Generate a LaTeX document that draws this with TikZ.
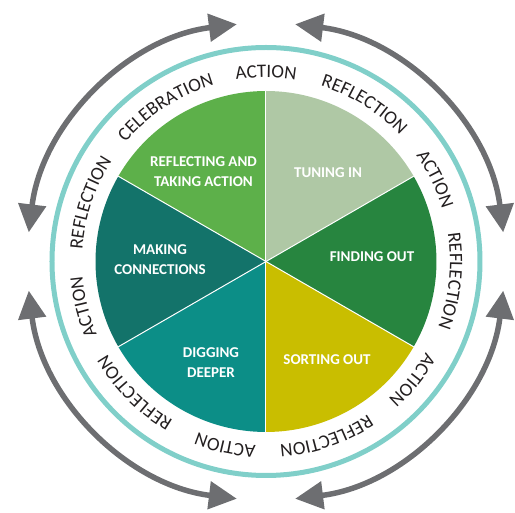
\documentclass[tikz,border=0pt]{standalone}
\usepackage{fontspec}
\setmainfont{Carlito}
\usetikzlibrary{arrows.meta,decorations.text}
\definecolor{cRTA}{HTML}{5DB04A}
\definecolor{cTI}{HTML}{AFC8A5}
\definecolor{cFO}{HTML}{27853F}
\definecolor{cSO}{HTML}{C9BE00}
\definecolor{cDD}{HTML}{0C8E87}
\definecolor{cMC}{HTML}{13736A}
\definecolor{cRing}{HTML}{80CFC9}
\definecolor{cArrow}{HTML}{6D6E71}
\definecolor{cText}{HTML}{231F20}
\newcommand\ringword[2]{\path[decorate,decoration={text along path,text align=center,text color=cText,text={|\fontsize{19}{19}\selectfont|#2}}] ({#1+30}:184) arc[start angle={#1+30},end angle={#1-30},radius=184];}
\tikzset{
  sectorlabel/.style={text=white,font=\bfseries\fontsize{15}{20}\selectfont,align=center,inner sep=0pt},
  cyclearrow/.style={draw=cArrow,line width=5.5pt,{Triangle[length=28pt,width=27pt]}-{Triangle[length=28pt,width=27pt]}},
  divider/.style={draw=white,line width=1pt}
}
\begin{document}
\begin{tikzpicture}[x=1pt,y=1pt]
\useasboundingbox (-266,-251.5) rectangle (249,261.5);
\coordinate (O) at (0,0);
\def\R{170.5}
% sectors
\fill[cTI]  (O) -- (90:\R)  arc[start angle=90, end angle=30, radius=\R] -- cycle;
\fill[cFO]  (O) -- (30:\R)  arc[start angle=30, end angle=-30, radius=\R] -- cycle;
\fill[cSO]  (O) -- (-30:\R) arc[start angle=-30, end angle=-90, radius=\R] -- cycle;
\fill[cDD]  (O) -- (-90:\R) arc[start angle=-90, end angle=-150, radius=\R] -- cycle;
\fill[cMC]  (O) -- (210:\R) arc[start angle=210, end angle=150, radius=\R] -- cycle;
\fill[cRTA] (O) -- (150:\R) arc[start angle=150, end angle=90, radius=\R] -- cycle;
\foreach \a in {30,90,150,210,270,330} \draw[divider] (O) -- (\a:\R);
% labels
\node[sectorlabel] (rta) at (-62.5,89.5) {REFLECTING AND\\TAKING ACTION};
\node[sectorlabel] (ti) at (62,88.5) {TUNING IN};
\node[sectorlabel] (mc) at (-106,1.5) {MAKING\\CONNECTIONS};
\node[sectorlabel] (fo) at (106,4.5) {FINDING OUT};
\node[sectorlabel] (dd) at (-55,-101) {DIGGING\\DEEPER};
\node[sectorlabel] (so) at (61,-98.5) {SORTING OUT};
% ring
\draw[cRing,line width=5pt] (O) circle[radius=214];
% ring words
\ringword{90}{ACTION}
\ringword{58}{REFLECTION}
\ringword{26}{ACTION}
\ringword{-6}{REFLECTION}
\ringword{-39}{ACTION}
\ringword{-71}{REFLECTION}
\ringword{-102.5}{ACTION}
\ringword{-135}{REFLECTION}
\ringword{-166}{ACTION}
\ringword{161.5}{REFLECTION}
\ringword{123}{CELEBRATION}
% arrows
\draw[cyclearrow] (173:239) arc[start angle=173, end angle=97, radius=239];
\draw[cyclearrow] (83:239) arc[start angle=83, end angle=7, radius=239];
\draw[cyclearrow] (-7:239) arc[start angle=-7, end angle=-83, radius=239];
\draw[cyclearrow] (-97:239) arc[start angle=-97, end angle=-173, radius=239];
\end{tikzpicture}
\end{document}
